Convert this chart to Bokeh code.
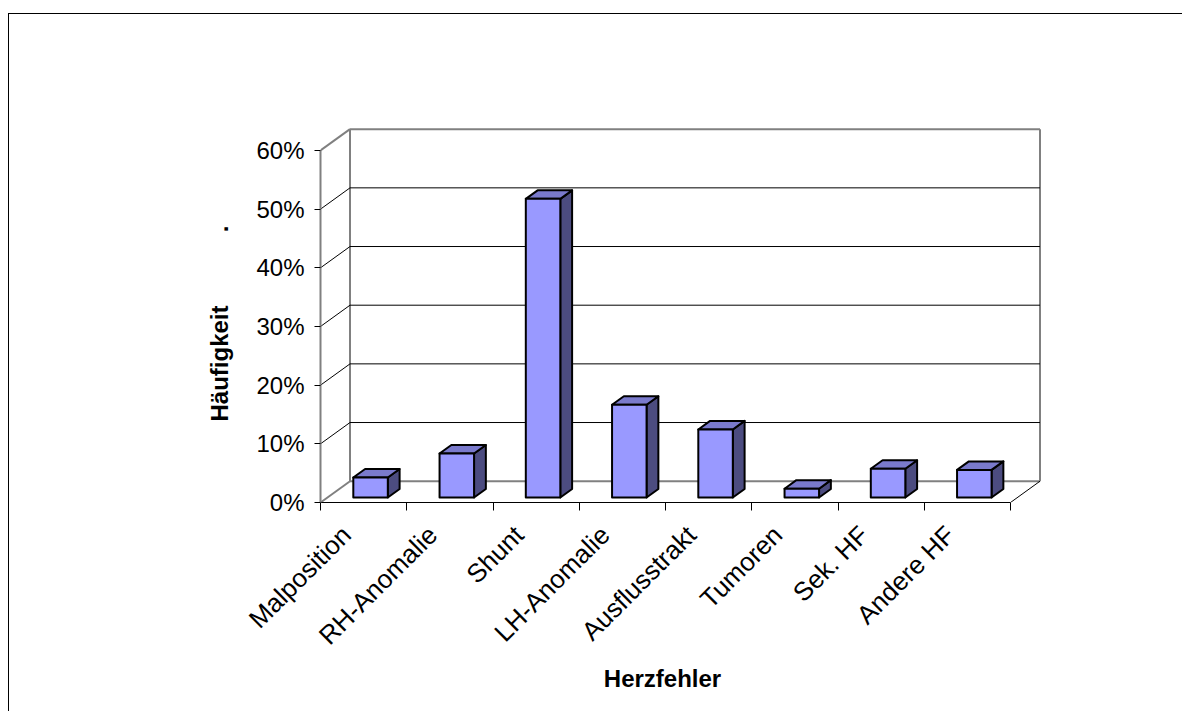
from math import pi

from bokeh.embed import file_html
from bokeh.models import FixedTicker, InlineStyleSheet, NumeralTickFormatter, Range1d
from bokeh.plotting import figure
from bokeh.resources import INLINE

# ---- data -------------------------------------------------------------
categories = ["Malposition", "RH-Anomalie", "Shunt", "LH-Anomalie",
              "Ausflusstrakt", "Tumoren", "Sek. HF", "Andere HF"]
shares = [0.034, 0.075, 0.509, 0.158, 0.116, 0.015, 0.049, 0.047]
y_ticks = [0.0, 0.1, 0.2, 0.3, 0.4, 0.5, 0.6]
NBSP = "\u00a0"
# axis titles; the non-breaking spaces keep the titles where they belong
# relative to the (wider) plot frame
x_title = "Herzfehler" + NBSP * 6
y_title = "Häufigkeit" + NBSP * 11 + "." + NBSP * 3

# ---- layout -----------------------------------------------------------
W, H = 1182, 711
FRAME_LEFT, FRAME_RIGHT, FRAME_TOP, FRAME_BOTTOM = 320, 1044, 124, 502
PX_PER_CAT = 86.25          # pixels per category slot
PX_PER_UNIT = 586.7         # pixels per 100 %
DEPTH_X = 29.5 / PX_PER_CAT  # oblique depth of the walls, in axis units
DEPTH_Y = 21.3 / PX_PER_UNIT
BAR_FRONT = 0.235           # bar front plane, as a fraction of the wall depth
BAR_BACK = 0.635
BAR_WIDTH = 0.40
LABEL_SHIFT = -0.2          # category labels sit slightly left of the slot centre
Y_TOP = y_ticks[-1]
N = len(categories)

X_MAX = (FRAME_RIGHT - FRAME_LEFT) / PX_PER_CAT
Y_MAX = (FRAME_BOTTOM - FRAME_TOP) / PX_PER_UNIT

FONT = "Liberation Sans"
WALL = "#808080"

# thin frame around the whole chart area (top and left edges are on screen)
chart_border = InlineStyleSheet(css="""
:host::after {
  content: "";
  position: absolute;
  left: 8px; top: 13px; right: 0; bottom: 0;
  border-left: 1.5px solid black;
  border-top: 1.5px solid black;
  pointer-events: none;
}
""")

p = figure(width=W, height=H, x_range=Range1d(0, X_MAX), y_range=Range1d(0, Y_MAX),
           output_backend="svg", toolbar_location=None,
           min_border_left=FRAME_LEFT, min_border_right=W - FRAME_RIGHT,
           min_border_top=FRAME_TOP, min_border_bottom=H - FRAME_BOTTOM,
           background_fill_color="white", border_fill_color="white",
           outline_line_color=None, stylesheets=[chart_border])
p.grid.visible = False

# ---- value axis (front plane) -----------------------------------------
ya = p.yaxis[0]
ya.ticker = FixedTicker(ticks=y_ticks, minor_ticks=[])
ya.formatter = NumeralTickFormatter(format="0%")
ya.bounds = (0, Y_TOP)
ya.axis_line_color = WALL
ya.axis_line_width = 2
ya.major_tick_line_color = "black"
ya.major_tick_in = 0
ya.major_tick_out = 6
ya.minor_tick_out = 0
ya.minor_tick_in = 0
ya.major_label_standoff = 10
ya.major_label_text_font = FONT
ya.major_label_text_font_size = "24px"
ya.major_label_text_color = "black"
ya.axis_label = y_title
ya.axis_label_text_font = FONT
ya.axis_label_text_font_style = "bold"
ya.axis_label_text_font_size = "24px"
ya.axis_label_text_color = "black"
ya.axis_label_standoff = 20

# ---- category axis ------------------------------------------------------
xa = p.xaxis[0]
centers = [i + 0.5 for i in range(N)]
label_pos = [round(c + LABEL_SHIFT, 3) for c in centers]
xa.ticker = FixedTicker(ticks=label_pos, minor_ticks=list(range(N + 1)))
xa.major_label_overrides = {c: name for c, name in zip(label_pos, categories)}
xa.bounds = (0, N)
xa.axis_line_color = "black"
xa.axis_line_width = 1
xa.major_tick_in = 0
xa.major_tick_out = 0
xa.minor_tick_in = 0
xa.minor_tick_out = 8
xa.minor_tick_line_color = "black"
xa.major_label_orientation = pi / 4
xa.major_label_standoff = 20
xa.major_label_text_font = FONT
xa.major_label_text_font_size = "26px"
xa.major_label_text_color = "black"
xa.axis_label = x_title
xa.axis_label_text_font = FONT
xa.axis_label_text_font_style = "bold"
xa.axis_label_text_font_size = "24px"
xa.axis_label_text_color = "black"
xa.axis_label_standoff = 1

# ---- walls, floor and gridlines ----------------------------------------
back_x0, back_x1 = DEPTH_X, N + DEPTH_X
p.segment(x0=[back_x0, back_x0, back_x1, back_x0, 0, 0],
          y0=[DEPTH_Y, Y_TOP + DEPTH_Y, DEPTH_Y, DEPTH_Y, 0, Y_TOP],
          x1=[back_x0, back_x1, back_x1, back_x1, back_x0, back_x0],
          y1=[Y_TOP + DEPTH_Y, Y_TOP + DEPTH_Y, Y_TOP + DEPTH_Y, DEPTH_Y, DEPTH_Y, Y_TOP + DEPTH_Y],
          line_color=WALL, line_width=2)
p.segment(x0=[N], y0=[0], x1=[N + DEPTH_X], y1=[DEPTH_Y], line_color="black", line_width=1)

inner = y_ticks[1:-1]
p.segment(x0=[0] * len(inner), y0=inner,
          x1=[back_x0] * len(inner), y1=[v + DEPTH_Y for v in inner],
          line_color="black", line_width=1)
p.segment(x0=[back_x0] * len(inner), y0=[v + DEPTH_Y for v in inner],
          x1=[back_x1] * len(inner), y1=[v + DEPTH_Y for v in inner],
          line_color="black", line_width=1)

# ---- 3D bars -------------------------------------------------------------
fx, fy = BAR_FRONT * DEPTH_X, BAR_FRONT * DEPTH_Y
dx, dy = (BAR_BACK - BAR_FRONT) * DEPTH_X, (BAR_BACK - BAR_FRONT) * DEPTH_Y
left = [c - BAR_WIDTH / 2 + fx for c in centers]
right = [c + BAR_WIDTH / 2 + fx for c in centers]
bottom = [fy] * N
top = [fy + v for v in shares]

bar_style = dict(line_color="black", line_width=2, line_join="round")
p.patches(xs=[[r, r, r + dx, r + dx] for r in right],
          ys=[[b, t, t + dy, b + dy] for b, t in zip(bottom, top)],
          fill_color="#4C4C80", **bar_style)
p.patches(xs=[[l, l + dx, r + dx, r] for l, r in zip(left, right)],
          ys=[[t, t + dy, t + dy, t] for t in top],
          fill_color="#7A7ACC", **bar_style)
p.quad(left=left, right=right, bottom=bottom, top=top,
       fill_color="#9999FF", **bar_style)

open("out.html", "w").write(file_html(p, INLINE))
